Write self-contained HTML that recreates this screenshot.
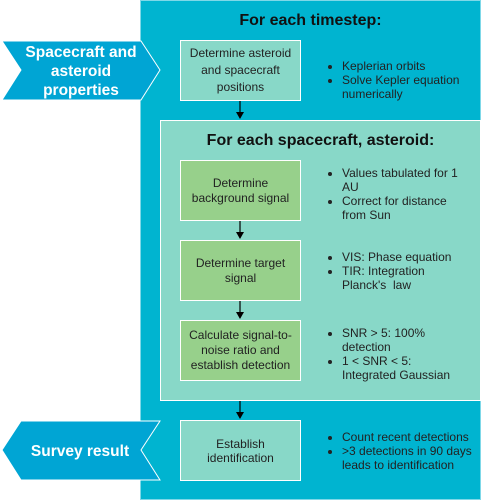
<!DOCTYPE html>
<html><head><style>
body{margin:0;width:501px;height:501px;position:relative;background:#fff;font-family:"Liberation Sans",sans-serif;overflow:hidden}
.a{position:absolute;box-sizing:border-box}
.box{display:flex;align-items:center;justify-content:center;text-align:center;font-size:12px;color:#222;border:1px solid #fff;line-height:17px}
.t{background:#88D8C8}.g{background:#97D08B}
.h{font-weight:bold;font-size:16px;color:#111;text-align:center}
ul{margin:0;padding-left:14px;font-size:12px;color:#222;line-height:14px;white-space:nowrap}
.l{position:absolute;left:328px;width:150px}
</style></head><body>
<div class="a" style="left:140px;top:0;width:341px;height:500px;background:#00B4D0;border:1px solid #7fd8e8"></div>
<div class="a h" style="left:140px;top:12px;width:341px">For each timestep:</div>
<div class="a box t" style="left:180px;top:40px;width:121px;height:61px">Determine asteroid<br>and spacecraft<br>positions</div>
<div class="l" style="top:59px"><ul><li>Keplerian orbits</li><li>Solve Kepler equation<br>numerically</li></ul></div>
<div class="a t" style="left:160px;top:120px;width:321px;height:281px;border:1px solid #fff"></div>
<div class="a h" style="left:160px;top:132px;width:321px">For each spacecraft, asteroid:</div>
<div class="a box g" style="left:180px;top:160px;width:121px;height:61px;line-height:15px">Determine<br>background signal</div>
<div class="l" style="top:166px"><ul><li>Values tabulated for 1<br>AU</li><li>Correct for distance<br>from Sun</li></ul></div>
<div class="a box g" style="left:180px;top:240px;width:121px;height:61px;line-height:15px">Determine target<br>signal</div>
<div class="l" style="top:250px"><ul><li>VIS: Phase equation</li><li>TIR: Integration<br>Planck's&nbsp; law</li></ul></div>
<div class="a box g" style="left:180px;top:320px;width:121px;height:61px;line-height:15px">Calculate signal-to-<br>noise ratio and<br>establish detection</div>
<div class="l" style="top:326px"><ul><li>SNR &gt; 5: 100%<br>detection</li><li>1 &lt; SNR &lt; 5:<br>Integrated Gaussian</li></ul></div>
<div class="a box t" style="left:180px;top:420px;width:121px;height:61px;line-height:14px">Establish<br>identification</div>
<div class="l" style="top:430px"><ul><li>Count recent detections</li><li>&gt;3 detections in 90 days<br>leads to identification</li></ul></div>
<svg class="a" style="left:0;top:0" width="501" height="501">
<defs><marker id="m" markerWidth="8" markerHeight="8" refX="6" refY="4" orient="auto" markerUnits="userSpaceOnUse"><path d="M0,0L7,4L0,8z" fill="#000"/></marker></defs>
<g stroke="#000" stroke-width="1.2" marker-end="url(#m)">
<line x1="240" y1="101" x2="240" y2="118"/><line x1="240" y1="221" x2="240" y2="238"/>
<line x1="240" y1="301" x2="240" y2="318"/><line x1="240" y1="401" x2="240" y2="418"/></g>
<path d="M2,41H141L160,70L141,100H2L21,70Z" fill="#00A5D4" stroke="#fff" stroke-width="1"/>
<path d="M21,41H160L141,70L160,100H21L2,70Z" transform="translate(0,380)" fill="#00A5D4" stroke="#fff" stroke-width="1"/>
<g fill="#fff" font-weight="bold" font-size="15.5" text-anchor="middle" font-family="Liberation Sans,sans-serif">
<text x="81" y="57">Spacecraft and</text><text x="81" y="76">asteroid</text><text x="81" y="95">properties</text>
<text x="80" y="456">Survey result</text></g>
</svg>
</body></html>
